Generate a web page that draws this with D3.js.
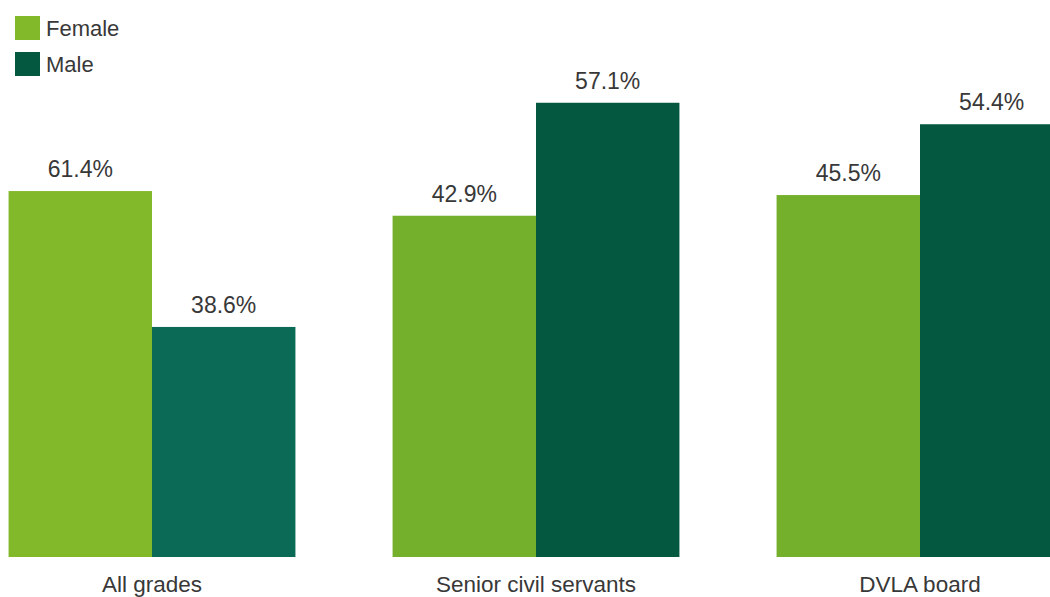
<!DOCTYPE html>
<svg width="1050" height="597"></svg>
<script src="https://d3js.org/d3.v7.min.js"></script>
<style>
  body {
    margin: 0;
    overflow: hidden;
  }
  text {
    font-family: "Liberation Sans", Arial, sans-serif;
    fill: #383838;
  }
</style>
<script>
// share of staff by sex, per grade group
var categories = ["All grades", "Senior civil servants", "DVLA board"];
var series = ["Female", "Male"];
var female = [61.4, 42.9, 45.5];
var male = [38.6, 57.1, 54.4];
// each group came from its own chart, with its own axis maximum
var axisMax = [70, 60, 60];

var femaleColours = ["#82b92a", "#74b02c", "#74b02c"];
var maleColours = ["#0a6a55", "#04583f", "#04583f"];

var svg = d3.select("svg"),
    baseline = 557;

var x = d3.scaleBand()
    .domain(categories)
    .range([-40, 1112])
    .paddingInner(0.253)
    .paddingOuter(0.1265);

var sub = d3.scaleBand()
    .domain(series)
    .range([0, x.bandwidth()]);

// per-group scales (group one was drawn against a taller axis)
var yScales = axisMax.map(function(m) {
  var pxPerUnit = m === 70 ? 5.96 : 7.955;
  return d3.scaleLinear().domain([0, m]).range([baseline, baseline - m * pxPerUnit]);
});

var rows = [];
categories.forEach(function(c, i) {
  rows.push({cat: c, i: i, key: "Female", value: female[i], colour: femaleColours[i]});
  rows.push({cat: c, i: i, key: "Male", value: male[i], colour: maleColours[i]});
});

var bars = svg.append("g").selectAll("g")
  .data(rows)
  .enter().append("g");

bars.append("rect")
    .attr("x", function(d) { return x(d.cat) + sub(d.key); })
    .attr("width", sub.bandwidth())
    .attr("y", function(d) { return yScales[d.i](d.value); })
    .attr("height", function(d) { return baseline - yScales[d.i](d.value); })
    .attr("fill", function(d) { return d.colour; });

bars.append("text")
    .attr("x", function(d) { return x(d.cat) + sub(d.key) + sub.bandwidth() / 2; })
    .attr("y", function(d) { return yScales[d.i](d.value) - 14; })
    .attr("text-anchor", "middle")
    .style("font-size", "23px")
    .text(function(d) { return d.value.toFixed(1) + "%"; });

// category labels
svg.append("g").selectAll("text")
  .data(categories)
  .enter().append("text")
    .attr("x", function(d) { return x(d) + x.bandwidth() / 2; })
    .attr("y", 592)
    .attr("text-anchor", "middle")
    .style("font-size", "22.5px")
    .text(function(d) { return d; });

// legend
var legend = svg.append("g").selectAll("g")
  .data(series)
  .enter().append("g")
    .attr("transform", function(d, i) { return "translate(15," + (16 + i * 36) + ")"; });

legend.append("rect")
    .attr("width", 25)
    .attr("height", 24)
    .attr("fill", function(d, i) { return i === 0 ? femaleColours[0] : maleColours[1]; });

legend.append("text")
    .attr("x", 31)
    .attr("y", 20)
    .style("font-size", "22px")
    .text(function(d) { return d; });
</script>
